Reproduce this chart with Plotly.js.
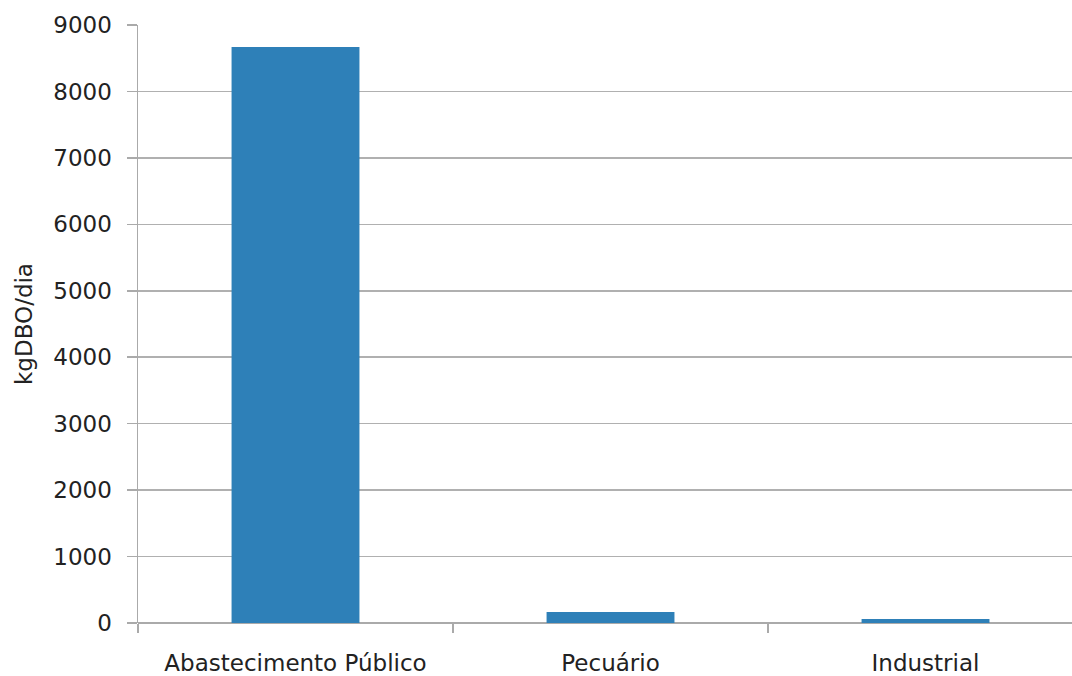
<!DOCTYPE html>
<html>
<head>
<meta charset="utf-8">
<script src="https://cdn.plot.ly/plotly-3.0.1.min.js"></script>
<style>html,body{margin:0;padding:0;background:#fff;}#chart{width:1072px;height:676px;}</style>
</head>
<body>
<div id="chart"></div>
<script>
const categories = ["Abastecimento Público", "Pecuário", "Industrial"];
const values = [8670, 165, 60];
const yTicks = [0, 1000, 2000, 3000, 4000, 5000, 6000, 7000, 8000, 9000];
const yTitle = "kgDBO/dia";

const font = {family: "DejaVu Sans, sans-serif", size: 23, color: "#222"};

Plotly.newPlot("chart", [{
  type: "bar",
  x: categories,
  y: values,
  marker: {color: "#2e80b8"},
  hoverinfo: "skip"
}], {
  width: 1072, height: 676,
  margin: {l: 138, r: 0, t: 25, b: 53},
  paper_bgcolor: "#fff", plot_bgcolor: "#fff",
  bargap: 0.594,
  showlegend: false,
  font: font,
  xaxis: {
    type: "category",
    range: [-0.5, 2.465],
    tickson: "boundaries",
    ticks: "outside", ticklen: 9, tickcolor: "#aaa", tickwidth: 1.5,
    showgrid: false, showline: false, zeroline: false,
    tickfont: font,
    ticklabelstandoff: 24
  },
  yaxis: {
    range: [0, 9000],
    tickvals: yTicks,
    ticks: "outside", ticklen: 10, tickcolor: "#aaa", tickwidth: 1.5,
    showgrid: true, gridcolor: "#b0b0b0", gridwidth: 1.5,
    showline: true, linecolor: "#aaa", linewidth: 1.5,
    zeroline: true, zerolinecolor: "#aaa", zerolinewidth: 1.5,
    tickfont: font,
    ticklabelstandoff: 10,
    title: {text: yTitle, font: font, standoff: 14}
  }
}, {displayModeBar: false, staticPlot: true});
</script>
</body>
</html>
